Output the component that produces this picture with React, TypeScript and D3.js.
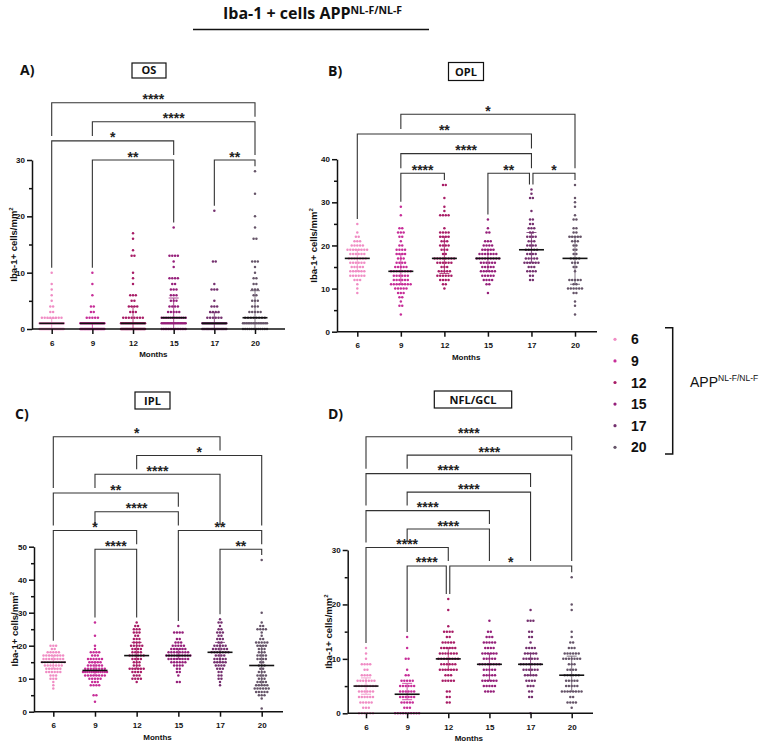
import { useEffect, useRef } from 'react'
import * as d3 from 'd3'

const months = ['6', '9', '12', '15', '17', '20']
const monthColors = ['#f08cc4', '#c72d98', '#a81c66', '#951f7a', '#74306e', '#655468']

// each group: [value, number of measurements at that value]
const osDots: [number, number][][] = [
  [[0, 30], [1, 22], [2, 8], [3, 2], [4, 2], [5, 1], [6, 1], [7, 1], [8, 1], [10, 1]],
  [[0, 28], [1, 22], [2, 5], [3, 2], [4, 2], [6, 1], [8, 1], [10, 1]],
  [[0, 30], [1, 18], [2, 8], [3, 3], [4, 4], [5, 2], [6, 3], [8, 1], [9, 1], [10, 1], [13, 2], [14, 1], [16, 1], [17, 1]],
  [[0, 15], [1, 18], [2, 12], [3, 5], [4, 4], [5, 3], [6, 3], [7, 3], [8, 2], [9, 4], [11, 1], [12, 1], [13, 4], [18, 1]],
  [[0, 20], [1, 25], [2, 6], [3, 4], [4, 3], [5, 1], [7, 3], [8, 1], [12, 2], [21, 1]],
  [[0, 12], [1, 15], [2, 8], [3, 5], [4, 3], [5, 3], [6, 2], [7, 3], [8, 2], [9, 2], [10, 1], [11, 1], [12, 3], [16, 2], [18, 1], [20, 1], [24, 1], [28, 1]],
]
const osMedian = [1, 1, 1, 2, 1, 2]
const osIqr = [[0, 1.9], [0, 1], [0, 4], [0, 5.5], [0, 2.9], [0, 6.8]]

const oplDots: [number, number][][] = [
  [[9, 1], [10, 1], [11, 1], [12, 3], [13, 6], [14, 6], [15, 5], [16, 6], [17, 7], [18, 6], [19, 8], [20, 5], [21, 3], [22, 2], [23, 1], [25, 1]],
  [[4, 1], [6, 2], [7, 1], [8, 2], [9, 3], [10, 5], [11, 8], [12, 6], [13, 6], [14, 8], [15, 5], [16, 4], [17, 3], [18, 4], [19, 4], [20, 2], [21, 1], [22, 2], [23, 3], [24, 2], [27, 1], [29, 1]],
  [[10, 1], [11, 2], [12, 4], [13, 6], [14, 5], [15, 3], [16, 6], [17, 8], [18, 2], [19, 3], [20, 4], [21, 3], [22, 4], [23, 4], [24, 1], [27, 4], [28, 1], [29, 1], [31, 1], [34, 2]],
  [[9, 1], [11, 2], [12, 4], [13, 5], [14, 6], [15, 5], [16, 6], [17, 9], [18, 7], [19, 5], [20, 4], [21, 3], [23, 2], [24, 1], [26, 1]],
  [[12, 2], [13, 2], [14, 4], [15, 3], [16, 6], [17, 5], [18, 4], [19, 5], [20, 4], [21, 3], [22, 4], [23, 2], [24, 3], [25, 2], [26, 2], [28, 1], [31, 2], [32, 1], [33, 1]],
  [[4, 1], [6, 1], [7, 1], [9, 2], [10, 6], [11, 2], [12, 5], [14, 1], [15, 2], [16, 3], [17, 4], [18, 2], [19, 2], [20, 2], [21, 3], [22, 5], [23, 2], [24, 2], [26, 2], [27, 1], [29, 1], [30, 1], [31, 1], [34, 1]],
]
const oplMedian = [17, 14, 17, 17, 19, 17]
const oplIqr = [[14, 19], [11, 18], [13.5, 22], [14, 19], [16, 23], [11, 22]]

const iplDots: [number, number][][] = [
  [[7, 1], [8, 1], [9, 1], [10, 3], [11, 3], [12, 6], [13, 6], [14, 7], [15, 9], [16, 8], [17, 8], [18, 5], [19, 2], [20, 3]],
  [[3, 1], [5, 2], [8, 4], [9, 3], [10, 5], [11, 8], [12, 12], [13, 8], [14, 6], [15, 5], [16, 6], [17, 3], [18, 4], [19, 1], [20, 1], [23, 1], [27, 1]],
  [[9, 1], [10, 4], [11, 3], [12, 4], [13, 6], [14, 3], [15, 3], [16, 4], [17, 6], [18, 4], [19, 4], [20, 5], [21, 3], [22, 3], [23, 2], [24, 3], [25, 3], [26, 2], [27, 1]],
  [[9, 2], [11, 1], [12, 2], [13, 2], [14, 4], [15, 6], [16, 8], [17, 10], [18, 8], [19, 6], [20, 5], [21, 3], [22, 2], [24, 4], [26, 1]],
  [[8, 1], [9, 1], [10, 2], [11, 2], [12, 2], [13, 3], [14, 4], [15, 5], [16, 5], [17, 4], [18, 7], [19, 6], [20, 5], [21, 2], [22, 3], [23, 2], [24, 3], [25, 2], [26, 1], [27, 2], [28, 1]],
  [[1, 1], [4, 1], [5, 3], [6, 5], [7, 6], [8, 5], [9, 4], [10, 3], [11, 4], [12, 3], [13, 2], [14, 3], [15, 2], [16, 4], [17, 4], [18, 3], [19, 3], [20, 4], [21, 5], [22, 2], [23, 1], [24, 1], [25, 4], [26, 2], [27, 1], [30, 1], [46, 1]],
]
const iplMedian = [15, 12.5, 17, 17, 18, 14]
const iplIqr = [[13, 17], [11, 15], [13, 21], [16, 19], [15, 21], [8, 20]]

const nflDots: [number, number][][] = [
  [[0, 6], [1, 3], [2, 5], [3, 6], [4, 6], [5, 8], [6, 7], [7, 4], [8, 2], [9, 4], [10, 1], [11, 1], [12, 1]],
  [[0, 10], [1, 3], [2, 5], [3, 6], [4, 6], [5, 6], [6, 5], [7, 2], [8, 1], [10, 2], [12, 1], [14, 1]],
  [[2, 2], [3, 2], [4, 2], [6, 5], [7, 3], [8, 7], [9, 6], [10, 8], [11, 7], [12, 6], [13, 5], [14, 2], [15, 4], [16, 1], [19, 1], [21, 1]],
  [[4, 4], [5, 5], [6, 6], [7, 5], [8, 5], [9, 8], [10, 5], [11, 6], [12, 4], [13, 5], [14, 3], [15, 2], [17, 1]],
  [[0, 1], [3, 2], [4, 2], [5, 3], [6, 4], [7, 5], [8, 6], [9, 8], [10, 6], [11, 5], [12, 4], [13, 1], [14, 2], [15, 2], [17, 3], [19, 1]],
  [[1, 1], [2, 4], [3, 2], [4, 8], [5, 5], [6, 5], [7, 6], [8, 4], [9, 3], [10, 7], [11, 6], [12, 3], [13, 2], [14, 1], [15, 1], [19, 1], [20, 1], [25, 1]],
]
const nflMedian = [5, 3.5, 10, 9, 9, 7]
const nflIqr = [[3.5, 6.5], [2.5, 5.5], [8, 12], [6, 11], [7, 11], [4, 10.5]]

// comparisons: [group a, group b, bracket row from top, significance]
const osComps: [number, number, number, string][] = [
  [0, 5, 0, '****'], [1, 5, 1, '****'], [0, 3, 2, '*'], [1, 3, 3, '**'], [4, 5, 3, '**'],
]
const oplComps: [number, number, number, string][] = [
  [1, 5, 0, '*'], [0, 4, 1, '**'], [1, 4, 2, '****'], [1, 2, 3, '****'], [3, 4, 3, '**'], [4, 5, 3, '*'],
]
const iplComps: [number, number, number, string][] = [
  [0, 4, 0, '*'], [2, 5, 1, '*'], [1, 4, 2, '****'], [0, 3, 3, '**'], [1, 3, 4, '****'],
  [0, 2, 5, '*'], [3, 5, 5, '**'], [1, 2, 6, '****'], [4, 5, 6, '**'],
]
const nflComps: [number, number, number, string][] = [
  [0, 5, 0, '****'], [1, 5, 1, '****'], [0, 4, 2, '****'], [1, 4, 3, '****'], [0, 3, 4, '****'],
  [1, 3, 5, '****'], [0, 2, 6, '****'], [1, 2, 7, '****'], [2, 5, 7, '*'],
]

const panels = [
  {
    letter: 'A)', name: 'OS', dots: osDots, median: osMedian, iqr: osIqr, comps: osComps, yMax: 30,
    xr: [51.7, 255], axisX: 32, axisEnd: 285, yr: [329, 160], titleX: 16.5,
    lx: 20, ly: 75, box: [132, 63, 34, 15], boxTy: 73.5, row0: 102.7, rowDy: 19.1,
  },
  {
    letter: 'B)', name: 'OPL', dots: oplDots, median: oplMedian, iqr: oplIqr, comps: oplComps, yMax: 40,
    xr: [357.3, 575], axisX: 337, axisEnd: 597, yr: [331.7, 159.2], titleX: 316.5,
    lx: 328, ly: 75.5, box: [448.5, 62.5, 35, 18], boxTy: 75.5, row0: 114.3, rowDy: 19.65,
  },
  {
    letter: 'C)', name: 'IPL', dots: iplDots, median: iplMedian, iqr: iplIqr, comps: iplComps, yMax: 50,
    xr: [53.3, 261.7], axisX: 34, axisEnd: 283, yr: [711.7, 546.7], titleX: 17.5,
    lx: 15, ly: 419, box: [135, 392, 35, 17], boxTy: 405.3, row0: 436.7, rowDy: 18.77,
  },
  {
    letter: 'D)', name: 'NFL/GCL', dots: nflDots, median: nflMedian, iqr: nflIqr, comps: nflComps, yMax: 30,
    xr: [366, 571.7], axisX: 347.7, axisEnd: 593, yr: [713.3, 550], titleX: 331.5,
    lx: 328, ly: 419, box: [434.3, 391, 77.4, 17], boxTy: 404.3, row0: 436.7, rowDy: 18.47,
  },
]

const SANS = "'Liberation Sans', Arial, sans-serif"
const HEAD = "'Open Sans', sans-serif"

function rowOffsets(n: number) {
  const step = n > 1 ? Math.min(2.8, 24 / (n - 1)) : 0
  return d3.range(n).map((i) => (i - (n - 1) / 2) * step)
}

export default function App() {
  const svgRef = useRef<SVGSVGElement>(null)

  useEffect(() => {
    if (!svgRef.current) return
    const svg = d3.select(svgRef.current)
    svg.selectAll('*').remove()

    svg.append('rect').attr('width', 767).attr('height', 746).attr('fill', '#fff')

    // Main title
    const title = svg.append('text').attr('x', 223).attr('y', 18.5)
      .attr('font-family', HEAD).attr('font-weight', 700).attr('font-size', 16).attr('fill', '#111')
    title.append('tspan').text('Iba-1 + cells APP')
    title.append('tspan').attr('font-size', 10.5).attr('dy', -4.5).text('NL-F/NL-F')
    svg.append('line').attr('x1', 193).attr('x2', 429).attr('y1', 29.5).attr('y2', 29.5)
      .attr('stroke', '#111').attr('stroke-width', 1.5)

    panels.forEach((p) => {
      const g = svg.append('g')
      const x = d3.scalePoint<string>().domain(months).range(p.xr as [number, number])
      const y = d3.scaleLinear().domain([0, p.yMax]).range(p.yr as [number, number])

      // Panel letter and boxed title
      g.append('text').attr('x', p.lx).attr('y', p.ly).attr('font-family', HEAD)
        .attr('font-weight', 700).attr('font-size', 14).attr('fill', '#111').text(p.letter)
      const [bx, by, bw, bh] = p.box
      g.append('rect').attr('x', bx).attr('y', by).attr('width', bw).attr('height', bh)
        .attr('fill', 'none').attr('stroke', '#111').attr('stroke-width', 1.2)
      g.append('text').attr('x', bx + bw / 2).attr('y', p.boxTy).attr('text-anchor', 'middle')
        .attr('font-family', HEAD).attr('font-weight', 700).attr('font-size', 11).attr('fill', '#111')
        .text(p.name)

      const groupMax = p.dots.map((grp) => d3.max(grp, (d) => d[0]) as number)

      // Significance brackets
      const rowY = (r: number) => p.row0 + r * p.rowDy
      const legBottom = (gi: number, row: number) => {
        const below = p.comps.filter((c) => c[2] > row && c[0] <= gi && gi <= c[1])
        if (below.length) return rowY(d3.min(below, (c) => c[2]) as number) - 5
        return y(groupMax[gi]) - 5
      }
      p.comps.forEach(([a, b, row, label]) => {
        const yy = rowY(row)
        const shareRight = p.comps.some((c) => c[2] === row && c[0] === b)
        const shareLeft = p.comps.some((c) => c[2] === row && c[1] === a)
        const xa = (x(months[a]) as number) + (shareLeft ? 1.5 : 0)
        const xb = (x(months[b]) as number) - (shareRight ? 2 : 0)
        const path = d3.path()
        path.moveTo(xa, legBottom(a, row))
        path.lineTo(xa, yy)
        path.lineTo(xb, yy)
        path.lineTo(xb, legBottom(b, row))
        g.append('path').attr('d', path.toString()).attr('fill', 'none')
          .attr('stroke', '#333').attr('stroke-width', 1.1)
        g.append('text').attr('x', (xa + xb) / 2).attr('y', yy + 1.5).attr('text-anchor', 'middle')
          .attr('font-family', SANS).attr('font-weight', 700).attr('font-size', 14).attr('fill', '#222')
          .text(label)
      })

      // Interquartile range whiskers
      p.iqr.forEach(([q1, q3], gi) => {
        const cx = x(months[gi]) as number
        const wg = g.append('g').attr('stroke', monthColors[gi]).attr('stroke-width', 1).attr('opacity', 0.8)
        wg.append('line').attr('x1', cx).attr('x2', cx).attr('y1', y(q1)).attr('y2', y(q3))
        ;[q1, q3].forEach((q) => {
          wg.append('line').attr('x1', cx - 5).attr('x2', cx + 5).attr('y1', y(q)).attr('y2', y(q))
        })
      })

      // Dots
      p.dots.forEach((grp, gi) => {
        const cx = x(months[gi]) as number
        const pts: { px: number; py: number }[] = []
        grp.forEach(([v, n]) => {
          rowOffsets(n).forEach((off) => pts.push({ px: cx + off, py: y(v) }))
        })
        g.append('g').selectAll('circle').data(pts).join('circle')
          .attr('cx', (d) => d.px).attr('cy', (d) => d.py).attr('r', 1.25)
          .attr('fill', monthColors[gi])
      })

      // Medians
      p.median.forEach((m, gi) => {
        const cx = x(months[gi]) as number
        g.append('line').attr('x1', cx - 12.5).attr('x2', cx + 12.5).attr('y1', y(m)).attr('y2', y(m))
          .attr('stroke', '#111').attr('stroke-width', 1.6)
      })

      // Y axis
      const major = d3.range(0, p.yMax + 1, 10)
      const minor = d3.range(5, p.yMax, 10)
      const ya = g.append('g').attr('transform', `translate(${p.axisX},0)`)
        .call(d3.axisLeft(y).tickValues(major).tickSize(5).tickSizeOuter(0).tickFormat(d3.format('d')))
      ya.append('g').call(d3.axisLeft(y).tickValues(minor).tickSize(3).tickFormat(() => ''))
        .select('.domain').remove()
      ya.selectAll('path, line').attr('stroke', '#111').attr('stroke-width', 1.5)
      ya.selectAll('text').attr('font-family', SANS).attr('font-weight', 700).attr('font-size', 8)
        .attr('fill', '#111').attr('x', -7)

      const yt = g.append('text')
        .attr('transform', `translate(${p.titleX},${(p.yr[0] + p.yr[1]) / 2}) rotate(-90)`)
        .attr('text-anchor', 'middle').attr('font-family', SANS).attr('font-weight', 700)
        .attr('font-size', 9.5).attr('fill', '#111')
      yt.append('tspan').text('Iba-1+ cells/mm')
      yt.append('tspan').attr('font-size', 6).attr('dy', -3.5).text('2')

      // X axis
      const y0 = y(0)
      g.append('line').attr('x1', p.axisX).attr('x2', p.axisEnd).attr('y1', y0).attr('y2', y0)
        .attr('stroke', '#111').attr('stroke-width', 1.5)
      const xa = g.append('g').attr('transform', `translate(0,${y0})`)
        .call(d3.axisBottom(x).tickSize(5).tickPadding(6))
      xa.select('.domain').remove()
      xa.selectAll('line').attr('stroke', '#111').attr('stroke-width', 1.5)
      xa.selectAll('text').attr('font-family', SANS).attr('font-weight', 700).attr('font-size', 8)
        .attr('fill', '#111')
      g.append('text').attr('x', ((p.xr[0] as number) + (p.xr[1] as number)) / 2).attr('y', y0 + 28)
        .attr('text-anchor', 'middle').attr('font-family', SANS).attr('font-weight', 700)
        .attr('font-size', 8).attr('fill', '#111').text('Months')
    })

    // Legend
    const ly = d3.scalePoint<string>().domain(months).range([339.3, 447.3])
    const lg = svg.append('g')
    months.forEach((m, i) => {
      const yy = ly(m) as number
      lg.append('circle').attr('cx', 615).attr('cy', yy).attr('r', 1.6).attr('fill', monthColors[i])
      lg.append('text').attr('x', 631).attr('y', yy + 5).attr('font-family', SANS)
        .attr('font-weight', 700).attr('font-size', 14).attr('fill', '#111').text(m)
    })
    lg.append('path').attr('d', 'M665,327.7H672.7V454H665').attr('fill', 'none')
      .attr('stroke', '#111').attr('stroke-width', 1.5)
    const app = lg.append('text').attr('x', 690).attr('y', 386.5).attr('font-family', SANS)
      .attr('font-size', 14).attr('fill', '#111')
    app.append('tspan').text('APP')
    app.append('tspan').attr('font-size', 8.5).attr('dy', -6).text('NL-F/NL-F')
  }, [])

  return (
    <svg
      ref={svgRef}
      width={767}
      height={746}
      style={{ position: 'absolute', left: 0, top: 0 }}
    />
  )
}
